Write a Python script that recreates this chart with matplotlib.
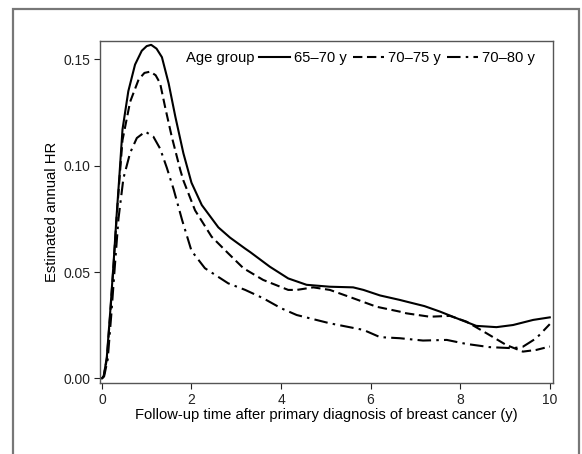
import matplotlib
matplotlib.use("Agg")
import matplotlib.pyplot as plt
from matplotlib.patches import Rectangle

plt.rcParams["font.family"] = ["Liberation Sans", "DejaVu Sans"]

# follow-up time (y) and estimated annual HR
t_65 = [0.0, 0.04, 0.11, 0.185, 0.26, 0.33, 0.39, 0.46, 0.59, 0.74, 0.89,
        1.0, 1.10, 1.22, 1.34, 1.49, 1.64, 1.82, 2.0, 2.23, 2.6, 2.86, 3.2,
        3.31, 3.75, 4.16, 4.57, 5.09, 5.61, 5.84, 6.21, 6.65, 6.80, 7.2,
        7.55, 7.92, 8.36, 8.81, 9.18, 9.63, 10.0]
hr_65 = [0.0, 0.001, 0.010, 0.031, 0.054, 0.077, 0.095, 0.117, 0.1350, 0.1475,
         0.1540, 0.1562, 0.1568, 0.1550, 0.151, 0.1387, 0.123, 0.1058, 0.092,
         0.0815, 0.0710, 0.0662, 0.0610, 0.0594, 0.0525, 0.047, 0.044, 0.0431,
         0.0428, 0.0416, 0.039, 0.0369, 0.0361, 0.034, 0.0314, 0.0283, 0.0247,
         0.0241, 0.0251, 0.0275, 0.0287]

t_70 = [0.0, 0.04, 0.11, 0.185, 0.26, 0.33, 0.39, 0.46, 0.63, 0.82, 0.95,
        1.08, 1.20, 1.30, 1.41, 1.56, 1.75, 1.82, 2.08, 2.45, 2.82, 3.16, 3.6,
        4.16, 4.35, 4.72, 5.09, 5.61, 6.13, 6.65, 6.80, 7.32, 7.77, 8.14,
        8.59, 9.03, 9.40, 9.70, 10.0]
hr_70 = [0.0, 0.001, 0.009, 0.030, 0.053, 0.076, 0.093, 0.112, 0.130, 0.1405,
         0.1436, 0.1442, 0.1425, 0.1387, 0.1277, 0.1136, 0.098, 0.093, 0.079,
         0.0666, 0.0588, 0.0518, 0.0463, 0.0416, 0.0416, 0.0428, 0.0416,
         0.0377, 0.0337, 0.0314, 0.0306, 0.0290, 0.0294, 0.0267, 0.0212,
         0.0157, 0.0126, 0.0134, 0.0150]

t_75 = [0.0, 0.05, 0.13, 0.21, 0.29, 0.37, 0.48, 0.63, 0.78, 0.97, 1.15,
        1.30, 1.45, 1.60, 1.79, 2.0, 2.30, 2.82, 3.2, 3.6, 4.0, 4.35, 5.09,
        5.84, 6.21, 6.65, 7.17, 7.70, 8.14, 8.66, 9.18, 9.40, 9.70, 10.0]
hr_75 = [0.0, 0.001, 0.009, 0.030, 0.053, 0.075, 0.094, 0.106, 0.113, 0.116,
         0.1136, 0.108, 0.099, 0.089, 0.0745, 0.060, 0.0518, 0.0447, 0.0416,
         0.0377, 0.033, 0.0298, 0.0259, 0.0228, 0.0194, 0.0189, 0.0178,
         0.0181, 0.0162, 0.0147, 0.0142, 0.0149, 0.0189, 0.0255]

labels = ["65–70 y", "70–75 y", "70–80 y"]
x_ticks = [0, 2, 4, 6, 8, 10]
y_ticks = [0.00, 0.05, 0.10, 0.15]

fig = plt.figure(figsize=(5.82, 4.54), dpi=100)
ax = fig.add_axes([0.172, 0.1557, 0.778, 0.754])

# grey frame round the figure panel (bottom edge is cropped off)
fig.patches.append(Rectangle((13 / 582, -0.05), (579 - 13) / 582, 1.05 - 9 / 454,
                             transform=fig.transFigure, fill=False,
                             edgecolor="#777777", linewidth=1.6))

ax.plot(t_65, hr_65, color="black", lw=1.5, label=labels[0])
ax.plot(t_70, hr_70, color="black", lw=1.5, dashes=(4.5, 2.2), label=labels[1])
ax.plot(t_75, hr_75, color="black", lw=1.5, dashes=(6.5, 2.5, 1.2, 2.5),
        label=labels[2])

ax.set_xlim(-0.04, 10.07)
ax.set_ylim(-0.0023, 0.1586)
ax.set_xticks(x_ticks)
ax.set_xticklabels([str(v) for v in x_ticks])
ax.set_yticks(y_ticks)
ax.set_yticklabels([f"{v:.2f}" for v in y_ticks])
ax.tick_params(direction="out", length=4, width=0.8, labelsize=10,
               colors="#222222", pad=3)
for sp in ax.spines.values():
    sp.set_color("#555555")
    sp.set_linewidth(1.0)

ax.set_xlabel("Follow-up time after primary diagnosis of breast cancer (y)",
              fontsize=10.6, labelpad=1)
ax.set_ylabel("Estimated annual HR", fontsize=10.6, labelpad=3)

ax.text(0.19, 0.950, "Age group", transform=ax.transAxes, fontsize=10.6,
        va="center", ha="left")
ax.legend(loc="center left", bbox_to_anchor=(0.351, 0.950), ncol=3,
          frameon=False, fontsize=10.6, handlelength=2.1, handletextpad=0.3,
          columnspacing=0.4, borderaxespad=0, borderpad=0)

fig.savefig("out.png", dpi=100)
